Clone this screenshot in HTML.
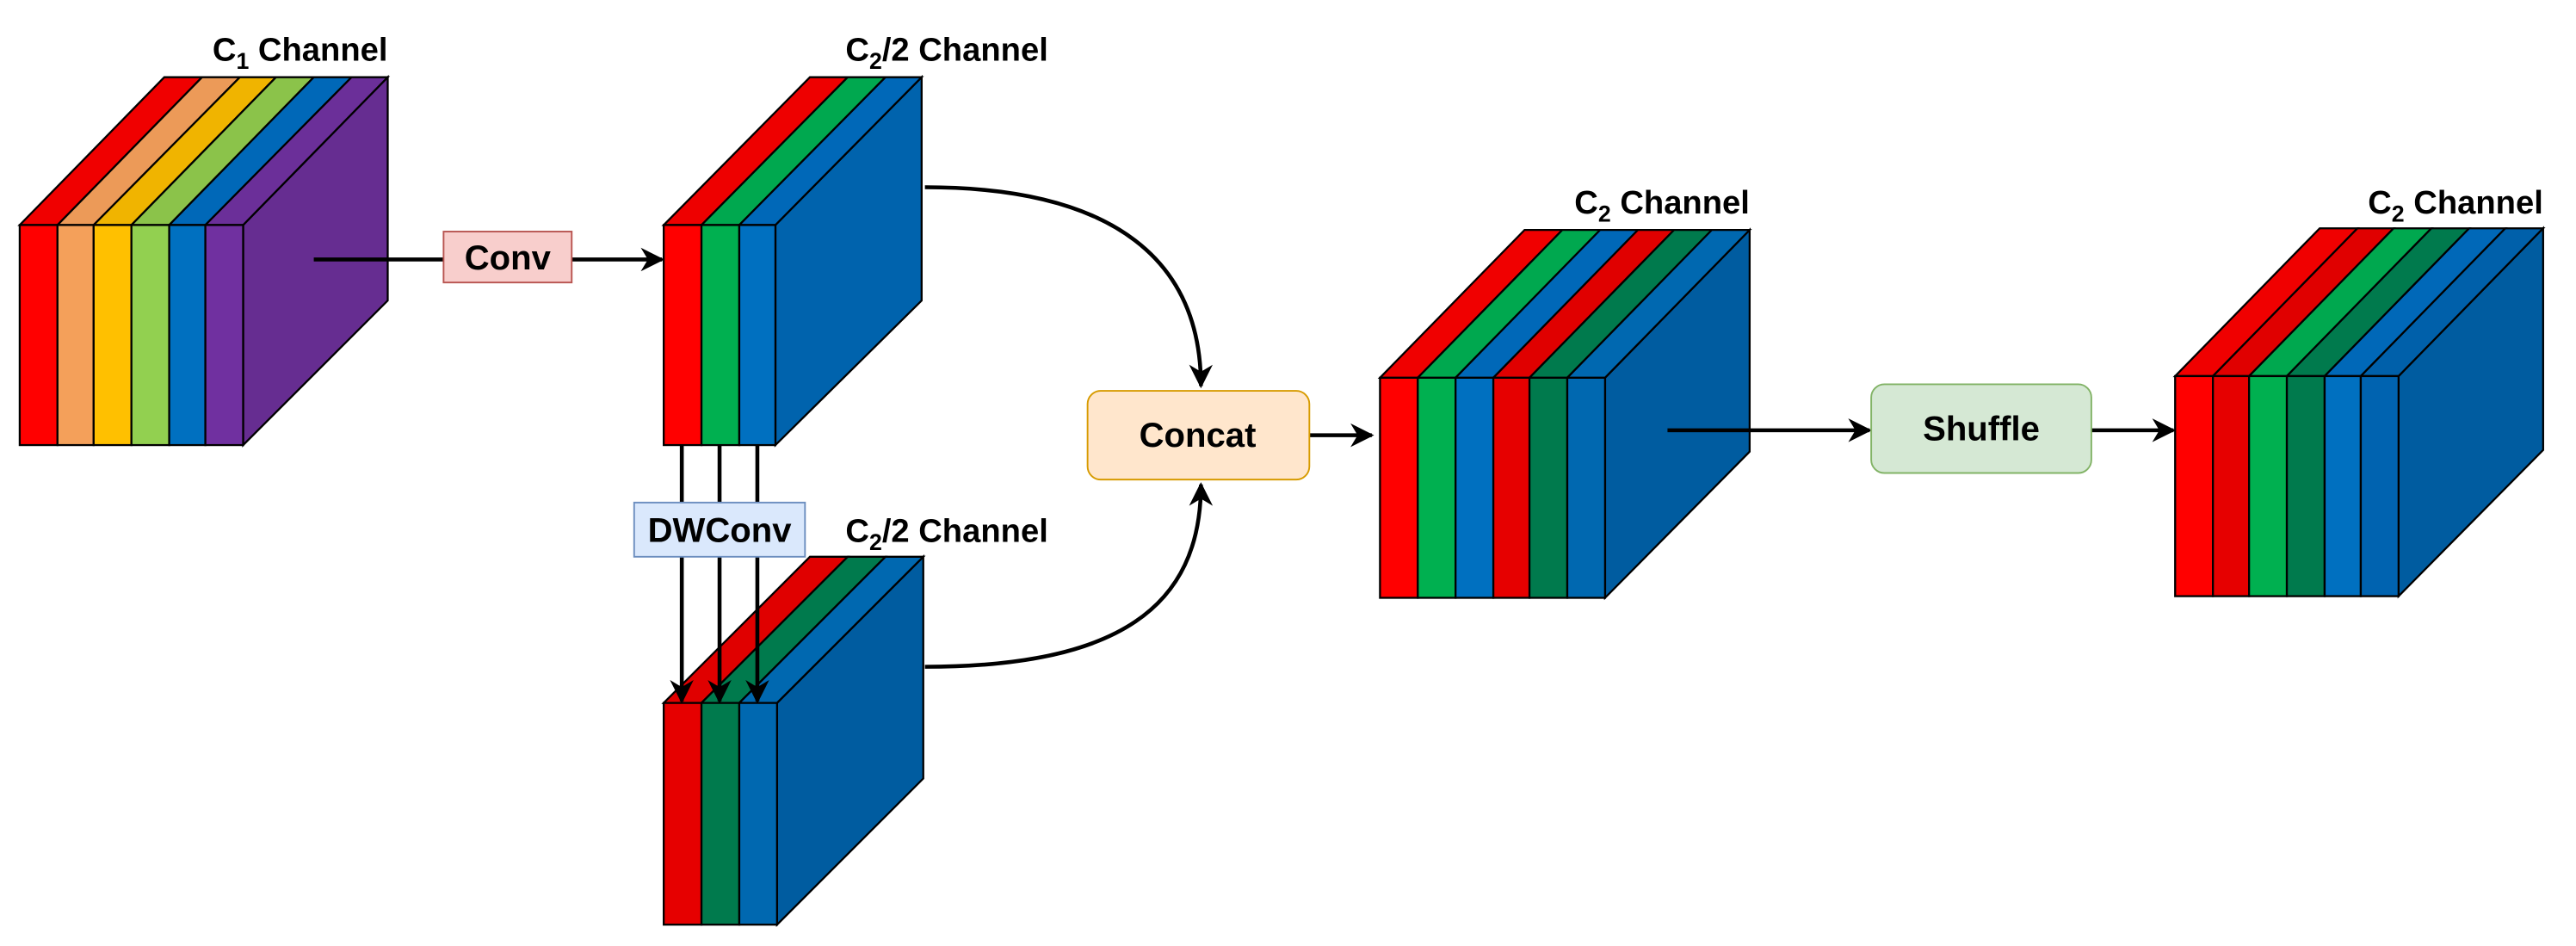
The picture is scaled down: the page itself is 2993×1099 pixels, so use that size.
<!DOCTYPE html>
<html><head><meta charset="utf-8"><style>html,body{margin:0;padding:0;background:#fff}svg{display:block}</style></head>
<body>
<svg width="2993" height="1099" viewBox="0 0 1568 576" preserveAspectRatio="none" xmlns="http://www.w3.org/2000/svg" font-family="'Liberation Sans', sans-serif" font-weight="bold">
<defs>
<marker id="ar" viewBox="0 0 10 10" refX="9" refY="5" markerWidth="6" markerHeight="6" orient="auto" markerUnits="strokeWidth">
<path d="M0,0 L10,5 L0,10 L3,5 Z" fill="#000"/></marker>
</defs>
<g stroke="#000" stroke-width="1.2" stroke-linejoin="miter">
<!-- Block 1 -->
<polygon points="148,137 236,47 236,183 148,271" fill="#662d91"/>
<polygon points="12,137 100,47 123,47 35,137" fill="#f00000"/>
<polygon points="35,137 123,47 146,47 57,137" fill="#ec9a58"/>
<polygon points="57,137 146,47 168,47 80,137" fill="#f0b400"/>
<polygon points="80,137 168,47 191,47 103,137" fill="#8bc34a"/>
<polygon points="103,137 191,47 214,47 125,137" fill="#0068b8"/>
<polygon points="125,137 214,47 236,47 148,137" fill="#6b2f99"/>
<rect x="12" y="137" width="23" height="134" fill="#ff0000"/>
<rect x="35" y="137" width="22" height="134" fill="#f4a05a"/>
<rect x="57" y="137" width="23" height="134" fill="#ffc000"/>
<rect x="80" y="137" width="23" height="134" fill="#92d050"/>
<rect x="103" y="137" width="22" height="134" fill="#0070c0"/>
<rect x="125" y="137" width="23" height="134" fill="#7030a0"/>
<!-- Block 2 -->
<polygon points="472,137 561,47 561,183 472,271" fill="#0063ad"/>
<polygon points="404,137 493,47 516,47 427,137" fill="#ee0000"/>
<polygon points="427,137 516,47 539,47 450,137" fill="#00a84f"/>
<polygon points="450,137 539,47 561,47 472,137" fill="#0068b8"/>
<rect x="404" y="137" width="23" height="134" fill="#ff0000"/>
<rect x="427" y="137" width="23" height="134" fill="#00b050"/>
<rect x="450" y="137" width="22" height="134" fill="#0070c0"/>
<!-- Block 3 -->
<polygon points="473,428 562,339 562,474 473,563" fill="#005ca0"/>
<polygon points="404,428 493,339 516,339 427,428" fill="#e00000"/>
<polygon points="427,428 516,339 539,339 450,428" fill="#007a4d"/>
<polygon points="450,428 539,339 562,339 473,428" fill="#0068b0"/>
<rect x="404" y="428" width="23" height="135" fill="#e60000"/>
<rect x="427" y="428" width="23" height="135" fill="#007a4d"/>
<rect x="450" y="428" width="23" height="135" fill="#0068b0"/>
<!-- Block 4 -->
<polygon points="977,230 1065,140 1065,275 977,364" fill="#005ca0"/>
<polygon points="840,230 928,140 951,140 863,230" fill="#f00000"/>
<polygon points="863,230 951,140 974,140 886,230" fill="#00a84f"/>
<polygon points="886,230 974,140 997,140 909,230" fill="#0068b8"/>
<polygon points="909,230 997,140 1019,140 931,230" fill="#e00000"/>
<polygon points="931,230 1019,140 1042,140 954,230" fill="#007a4d"/>
<polygon points="954,230 1042,140 1065,140 977,230" fill="#0068b0"/>
<rect x="840" y="230" width="23" height="134" fill="#ff0000"/>
<rect x="863" y="230" width="23" height="134" fill="#00b050"/>
<rect x="886" y="230" width="23" height="134" fill="#0070c0"/>
<rect x="909" y="230" width="22" height="134" fill="#e60000"/>
<rect x="931" y="230" width="23" height="134" fill="#007a4d"/>
<rect x="954" y="230" width="23" height="134" fill="#0068b0"/>
<!-- Block 5 -->
<polygon points="1460,229 1548,139 1548,274 1460,363" fill="#005ca0"/>
<polygon points="1324,229 1412,139 1435,139 1347,229" fill="#f00000"/>
<polygon points="1347,229 1435,139 1457,139 1369,229" fill="#e00000"/>
<polygon points="1369,229 1457,139 1480,139 1392,229" fill="#00a84f"/>
<polygon points="1392,229 1480,139 1503,139 1415,229" fill="#007a4d"/>
<polygon points="1415,229 1503,139 1525,139 1437,229" fill="#0068b8"/>
<polygon points="1437,229 1525,139 1548,139 1460,229" fill="#0060aa"/>
<rect x="1324" y="229" width="23" height="134" fill="#ff0000"/>
<rect x="1347" y="229" width="22" height="134" fill="#e60000"/>
<rect x="1369" y="229" width="23" height="134" fill="#00b050"/>
<rect x="1392" y="229" width="23" height="134" fill="#007a4d"/>
<rect x="1415" y="229" width="22" height="134" fill="#0070c0"/>
<rect x="1437" y="229" width="23" height="134" fill="#0063b0"/>
</g>
<!-- connectors -->
<g stroke="#000" stroke-width="2.4" fill="none">
<line x1="191" y1="158" x2="403" y2="158" marker-end="url(#ar)"/>
<line x1="415" y1="271" x2="415" y2="427" marker-end="url(#ar)"/>
<line x1="438" y1="271" x2="438" y2="427" marker-end="url(#ar)"/>
<line x1="461" y1="271" x2="461" y2="427" marker-end="url(#ar)"/>
<path d="M563,114 C680,114 731,160 731,235" marker-end="url(#ar)"/>
<path d="M563,406 C680,406 731,370 731,295" marker-end="url(#ar)"/>
<line x1="797" y1="265" x2="835" y2="265" marker-end="url(#ar)"/>
<line x1="1015" y1="262" x2="1138" y2="262" marker-end="url(#ar)"/>
<line x1="1273" y1="262" x2="1323" y2="262" marker-end="url(#ar)"/>
</g>
<!-- boxes -->
<rect x="270" y="141" width="78" height="31" fill="#f8cecc" stroke="#b85450" stroke-width="1"/>
<text x="309" y="164" font-size="21" text-anchor="middle">Conv</text>
<rect x="386" y="306" width="104" height="33" fill="#dae8fc" stroke="#6c8ebf" stroke-width="1"/>
<text x="438" y="330" font-size="21" text-anchor="middle">DWConv</text>
<rect x="662" y="238" width="135" height="54" rx="8" fill="#ffe6cc" stroke="#d79b00" stroke-width="1"/>
<text x="729" y="272" font-size="21" text-anchor="middle">Concat</text>
<rect x="1139" y="234" width="134" height="54" rx="8" fill="#d5e8d4" stroke="#82b366" stroke-width="1"/>
<text x="1206" y="268" font-size="21" text-anchor="middle">Shuffle</text>
<!-- labels -->
<text x="236" y="37" font-size="20" text-anchor="end">C<tspan font-size="14" dy="5">1</tspan><tspan dy="-5"> Channel</tspan></text>
<text x="638" y="37" font-size="20" text-anchor="end">C<tspan font-size="14" dy="5">2</tspan><tspan dy="-5">/2 Channel</tspan></text>
<text x="638" y="330" font-size="20" text-anchor="end">C<tspan font-size="14" dy="5">2</tspan><tspan dy="-5">/2 Channel</tspan></text>
<text x="1065" y="130" font-size="20" text-anchor="end">C<tspan font-size="14" dy="5">2</tspan><tspan dy="-5"> Channel</tspan></text>
<text x="1548" y="130" font-size="20" text-anchor="end">C<tspan font-size="14" dy="5">2</tspan><tspan dy="-5"> Channel</tspan></text>
</svg>
</body></html>
